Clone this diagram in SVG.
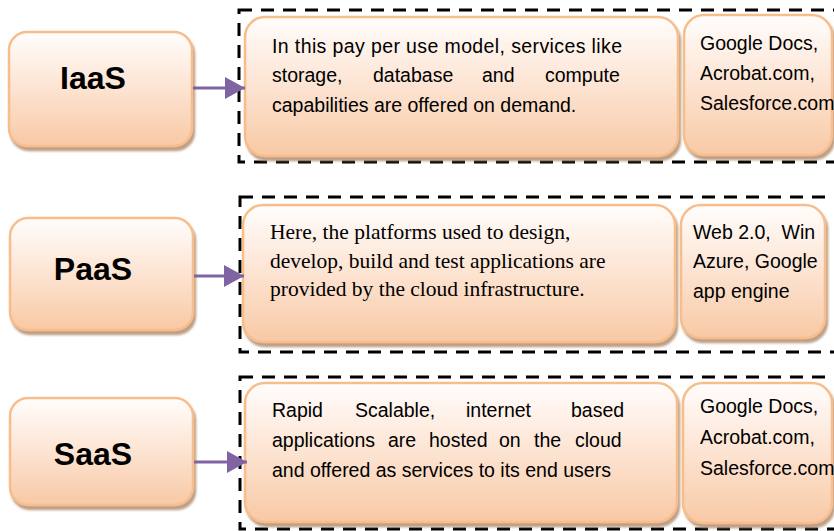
<svg xmlns="http://www.w3.org/2000/svg" width="834" height="531" viewBox="0 0 834 531">
<defs>
<linearGradient id="peach" x1="0" y1="0" x2="0" y2="1">
<stop offset="0" stop-color="#fffdfc"/>
<stop offset="0.45" stop-color="#fde6d6"/>
<stop offset="1" stop-color="#f8c9a5"/>
</linearGradient>
<filter id="sh" x="-10%" y="-10%" width="130%" height="130%">
<feDropShadow dx="2" dy="4" stdDeviation="1.2" flood-color="#a9805f" flood-opacity="0.75"/>
</filter>
<marker id="arr" markerUnits="userSpaceOnUse" markerWidth="22" markerHeight="24" refX="20" refY="11" orient="auto">
<path d="M0,0 L20,11 L0,22 Z" fill="#8064a2"/>
</marker>
</defs>
<style>
.box{fill:url(#peach);stroke:#f7bd8b;stroke-width:2.5;filter:url(#sh)}
.dash{fill:none;stroke:#000;stroke-width:3;stroke-dasharray:13 9}
.title{font-family:"Liberation Sans",Arial,sans-serif;font-weight:bold;font-size:32px;fill:#000;text-anchor:middle}
.sans{font-family:"Liberation Sans",Arial,sans-serif;font-size:19.5px;fill:#000}
.serif{font-family:"Liberation Serif","Times New Roman",serif;font-size:21.5px;fill:#000}
.conn{stroke:#8064a2;stroke-width:3;fill:none}
</style>

<g id="group-iaas">
<rect class="dash" x="239" y="10" width="620" height="152"/>
</g>
<g id="group-paas">
<rect class="dash" x="240" y="197" width="620" height="155"/>
</g>
<g id="group-saas">
<rect class="dash" x="240" y="377" width="620" height="152"/>
</g>

<g id="iaas">
<rect class="box" x="9" y="32" width="183" height="114" rx="18"/>
<text class="title" x="93" y="89">IaaS</text>
</g>
<g id="iaas-desc">
<rect class="box" x="245" y="17" width="433" height="139" rx="20"/>
<text class="sans" x="272" y="53" textLength="350" lengthAdjust="spacing">In this pay per use model, services like</text>
<text class="sans" y="82"><tspan x="272">storage,</tspan><tspan x="373">database</tspan><tspan x="482">and</tspan><tspan x="545">compute</tspan></text>
<text class="sans" x="272" y="112">capabilities are offered on demand.</text>
</g>
<g id="iaas-examples">
<rect class="box" x="684" y="15" width="148" height="140" rx="20"/>
<text class="sans" x="700" y="50">Google Docs,</text>
<text class="sans" x="700" y="80">Acrobat.com,</text>
<text class="sans" x="700" y="110">Salesforce.com</text>
</g>

<g id="paas">
<rect class="box" x="10" y="218" width="183" height="112" rx="18"/>
<text class="title" x="93" y="280">PaaS</text>
</g>
<g id="paas-desc">
<rect class="box" x="243" y="205" width="432" height="137" rx="20"/>
<text class="serif" x="270" y="239">Here, the platforms used to design,</text>
<text class="serif" x="270" y="268">develop, build and test applications are</text>
<text class="serif" x="270" y="296">provided by the cloud infrastructure.</text>
</g>
<g id="paas-examples">
<rect class="box" x="681" y="205" width="144" height="133" rx="20"/>
<text class="sans" x="693" y="239" xml:space="preserve">Web 2.0,  Win</text>
<text class="sans" x="693" y="268">Azure, Google</text>
<text class="sans" x="693" y="298">app engine</text>
</g>

<g id="saas">
<rect class="box" x="10" y="398" width="183" height="107" rx="18"/>
<text class="title" x="93" y="465">SaaS</text>
</g>
<g id="saas-desc">
<rect class="box" x="245" y="383" width="432" height="139" rx="20"/>
<text class="sans" y="417"><tspan x="272">Rapid</tspan><tspan x="355">Scalable,</tspan><tspan x="466">internet</tspan><tspan x="571">based</tspan></text>
<text class="sans" y="447"><tspan x="272">applications</tspan><tspan x="388">are</tspan><tspan x="429">hosted</tspan><tspan x="499">on</tspan><tspan x="534">the</tspan><tspan x="575">cloud</tspan></text>
<text class="sans" x="272" y="477">and offered as services to its end users</text>
</g>
<g id="saas-examples">
<rect class="box" x="683" y="383" width="149" height="140" rx="20"/>
<text class="sans" x="700" y="413">Google Docs,</text>
<text class="sans" x="700" y="444">Acrobat.com,</text>
<text class="sans" x="700" y="475">Salesforce.com</text>
</g>

<g id="connectors">
<line class="conn" x1="193" y1="88" x2="245" y2="88" marker-end="url(#arr)"/>
<line class="conn" x1="194" y1="276" x2="244" y2="276" marker-end="url(#arr)"/>
<line class="conn" x1="194" y1="462" x2="247" y2="462" marker-end="url(#arr)"/>
</g>
</svg>
